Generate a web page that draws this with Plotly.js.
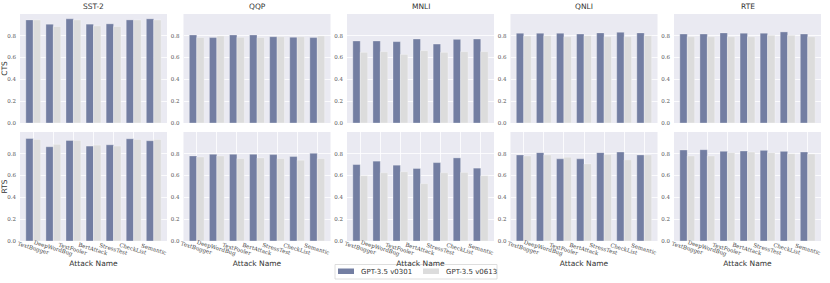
<!DOCTYPE html>
<html><head><meta charset="utf-8">
<script src="https://cdn.plot.ly/plotly-3.0.1.min.js"></script>
<style>html,body{margin:0;padding:0;background:#fff}#c{width:830px;height:283px}</style>
</head><body><div id="c"></div>
<script>
const attacks = ["TextBugger","DeepWordBug","TextFooler","BertAttack","StressTest","CheckList","Semantic"];
const datasets = ["SST-2","QQP","MNLI","QNLI","RTE"];
const metrics = ["CTS","RTS"];
const seriesNames = ["GPT-3.5 v0301","GPT-3.5 v0613"];

// CTS values
const cts_v0301 = {
  "SST-2":[0.944,0.905,0.954,0.905,0.908,0.944,0.954],
  "QQP":  [0.806,0.782,0.806,0.806,0.790,0.785,0.782],
  "MNLI": [0.751,0.751,0.745,0.769,0.723,0.766,0.769],
  "QNLI": [0.822,0.822,0.822,0.815,0.825,0.831,0.825],
  "RTE":  [0.815,0.815,0.825,0.822,0.822,0.834,0.815]
};
const cts_v0613 = {
  "SST-2":[0.944,0.883,0.944,0.889,0.883,0.944,0.944],
  "QQP":  [0.782,0.797,0.785,0.782,0.790,0.790,0.797],
  "MNLI": [0.647,0.653,0.628,0.662,0.647,0.653,0.653],
  "QNLI": [0.797,0.800,0.790,0.800,0.790,0.790,0.800],
  "RTE":  [0.790,0.790,0.790,0.790,0.803,0.803,0.790]
};
// RTS values
const rts_v0301 = {
  "SST-2":[0.939,0.863,0.921,0.869,0.881,0.936,0.918],
  "QQP":  [0.779,0.794,0.794,0.794,0.791,0.773,0.803],
  "MNLI": [0.700,0.731,0.694,0.664,0.718,0.761,0.667],
  "QNLI": [0.788,0.809,0.752,0.752,0.809,0.815,0.788],
  "RTE":  [0.833,0.836,0.821,0.824,0.830,0.821,0.815]
};
const rts_v0613 = {
  "SST-2":[0.930,0.885,0.921,0.878,0.869,0.930,0.930],
  "QQP":  [0.770,0.779,0.755,0.761,0.755,0.740,0.755],
  "MNLI": [0.598,0.625,0.634,0.525,0.625,0.628,0.598],
  "QNLI": [0.779,0.788,0.767,0.706,0.791,0.743,0.788],
  "RTE":  [0.779,0.779,0.809,0.815,0.809,0.800,0.797]
};
const yTicks = [0,0.2,0.4,0.6,0.8];
const yTickText = ["0.0","0.2","0.4","0.6","0.8"];

const W = 830, H = 283;
const colors = ["#737ea2","#dcdcdc"];
const lefts = [20,183.5,347,510.5,674], pw = 147;
const rowsPx = [[14,123],[132,241]];
const tickFont = () => ({family:"DejaVu Serif, serif", size:5.5, color:"#555"});
const textFont = () => ({family:"DejaVu Sans, sans-serif", size:7.5, color:"#333"});

const traces = [];
const layout = {
  width:W, height:H, margin:{l:0,r:0,t:0,b:0},
  paper_bgcolor:"#fff", plot_bgcolor:"#eaeaf2",
  barmode:"group", bargap:0.26, bargroupgap:0,
  showlegend:false,
  annotations:[], shapes:[]
};

const tables = [[cts_v0301,cts_v0613],[rts_v0301,rts_v0613]];
for (let r=0;r<2;r++){
  for (let c=0;c<5;c++){
    const idx = r*5+c+1;
    const xa = "x"+(idx===1?"":idx), ya = "y"+(idx===1?"":idx);
    const ds = datasets[c];
    for (let s=0;s<2;s++){
      traces.push({type:"bar", x:attacks, y:tables[r][s][ds], name:seriesNames[s],
        xaxis:xa, yaxis:ya, marker:{color:colors[s], line:{color:"rgba(255,255,255,0.6)", width:0.5}},
        hoverinfo:"skip"});
    }
    const xk = "xaxis"+(idx===1?"":idx), yk = "yaxis"+(idx===1?"":idx);
    layout[xk] = {domain:[lefts[c]/W,(lefts[c]+pw)/W], anchor:ya, range:[-0.66,6.66],
      type:"category", categoryarray:attacks,
      showgrid:(r===1), gridcolor:"#fff", gridwidth:0.8, zeroline:false,
      showticklabels:false, ticks:"", showline:false, fixedrange:true};
    if (r===1){
      layout[xk].title = {text:"Attack Name", font:textFont(), standoff:19};
    }
    layout[yk] = {domain:[1-rowsPx[r][1]/H,1-rowsPx[r][0]/H], anchor:xa, range:[0,0.998],
      tickvals:yTicks, ticktext:yTickText, tickfont:tickFont(), showgrid:true, gridcolor:"#fff",
      gridwidth:0.8, zeroline:false, ticks:"", showline:false, fixedrange:true, ticklabelstandoff:3};
    if (c===0){
      layout[yk].title = {text:metrics[r], font:textFont(), standoff:3};
    }
    if (r===0){
      layout.annotations.push({text:ds, xref:"paper", yref:"paper",
        x:(lefts[c]+pw/2)/W, y:1-6/H, xanchor:"center", yanchor:"middle",
        showarrow:false, font:textFont()});
    } else {
      attacks.forEach(a=>{
        layout.annotations.push({text:a, xref:xa, yref:"paper", x:a, y:1-248.5/H,
          xanchor:"center", yanchor:"middle", textangle:17, showarrow:false,
          font:{family:"DejaVu Serif, serif", size:5.5, color:"#444"}});
      });
    }
  }
}
// custom legend (paper coordinates)
const px = v => v/W, py = v => 1-v/H;
layout.shapes.push({type:"rect", xref:"paper", yref:"paper", x0:px(335), x1:px(497), y0:py(279), y1:py(264.5),
  line:{color:"#d6d6d6", width:0.8}, fillcolor:"rgba(255,255,255,0.9)"});
const legItems = [{sx:338, tx:359},{sx:423, tx:444}];
legItems.forEach((it,i)=>{
  layout.shapes.push({type:"rect", xref:"paper", yref:"paper", x0:px(it.sx), x1:px(it.sx+16), y0:py(274), y1:py(268.5),
    line:{width:0}, fillcolor:colors[i]});
  layout.annotations.push({text:seriesNames[i], xref:"paper", yref:"paper", x:px(it.tx), y:py(271.5),
    xanchor:"left", yanchor:"middle", showarrow:false,
    font:{family:"DejaVu Sans, sans-serif", size:7, color:"#333"}});
});
Plotly.newPlot("c", traces, layout, {staticPlot:true, displayModeBar:false});
</script></body></html>
